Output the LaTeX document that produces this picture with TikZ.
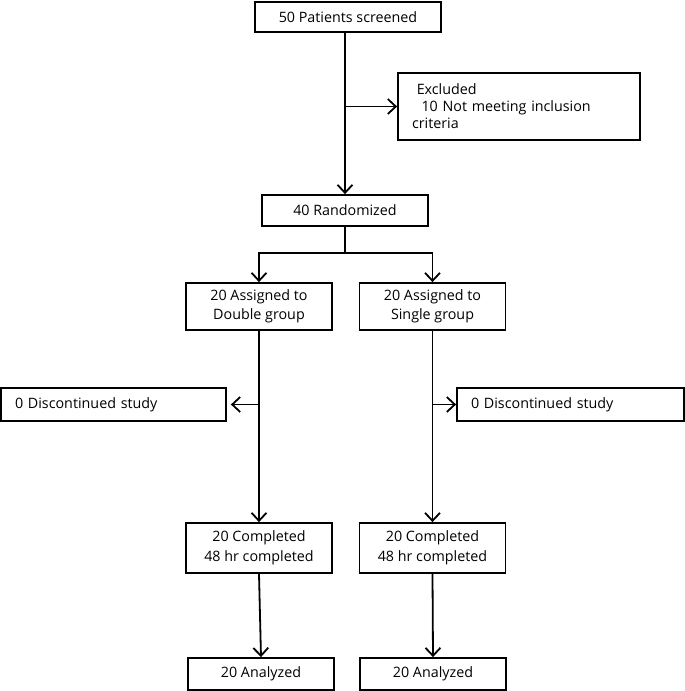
\documentclass[tikz,border=0pt]{standalone}
\usepackage{fontspec}
\setmainfont{Open Sans}
\usepackage{tikz}
\usetikzlibrary{positioning, arrows.meta, calc}

\tikzset{
	box/.style={draw, line width=1.8pt, minimum width=146pt, minimum height=47pt, align=center, font=\fontsize{14.3}{19.5}\selectfont, inner sep=2pt},
	arr/.style={line width=1.8pt, -{Straight Barb[length=8pt, width=15pt, line width=1.8pt]}},
	ln/.style={line width=1.8pt}
}

\begin{document}
\begin{tikzpicture}[x=1pt, y=-1pt]
		\useasboundingbox (0,0) rectangle (685,691);
		
		% Screening
		\node[box, minimum width=186pt, minimum height=30pt] (screen) at (348,17) {50 Patients screened};
		\node[box, minimum width=242pt, minimum height=67pt, text width=214pt, align=left, inner xsep=14pt, font=\fontsize{14.3}{17}\selectfont] (excl) at (519,106.5) {\ Excluded\\ \ \ 10 Not meeting inclusion\\criteria};
		\node[box, minimum width=166pt, minimum height=31pt] (rand) at (345,210.5) {40 Randomized};
		
		% Groups
		\node[box] (dbl) at (259,306.5) {20 Assigned to\\Double group};
		\node[box] (sgl) at (432.5,306.5) {20 Assigned to\\Single group};
		
		% Discontinued
		\node[box, minimum width=225pt, minimum height=33pt, text width=197pt, inner xsep=14pt, align=left] (discL) at (113.5,404.5) {0 Discontinued study};
		\node[box, minimum width=227pt, minimum height=33pt, text width=199pt, inner xsep=14pt, align=left] (discR) at (570.5,404.5) {0 Discontinued study};
		
		% Completed
		\node[box, minimum height=50pt] (compL) at (259,548) {20 Completed\\48 hr completed};
		\node[box, minimum height=50pt] (compR) at (432.5,548) {20 Completed\\48 hr completed};
		
		% Analyzed
		\node[box, minimum height=32pt] (anaL) at (261,674) {20 Analyzed};
		\node[box, minimum height=32pt] (anaR) at (433,674) {20 Analyzed};
		
		% Arrows
		\draw[arr] (rand.north |- screen.south) -- (rand.north);
		\draw[arr] (rand.north |- excl.west) -- (excl.west);
		\draw[ln] (rand.south) -- ++(0,26) coordinate (split);
		\draw[arr] (split) -| (dbl.north);
		\draw[arr] (split) -| (sgl.north);
		\draw[arr] (dbl.south) -- (compL.north);
		\draw[arr] (sgl.south) -- (compR.north);
		\draw[arr, shorten >=4pt] (dbl.south |- discL.east) -- (discL.east);
		\draw[arr] (sgl.south |- discR.west) -- (discR.west);
		\draw[arr] (compL.south) -- (anaL.north);
		\draw[arr] (compR.south) -- (anaR.north);
		
	\end{tikzpicture}
\end{document}
